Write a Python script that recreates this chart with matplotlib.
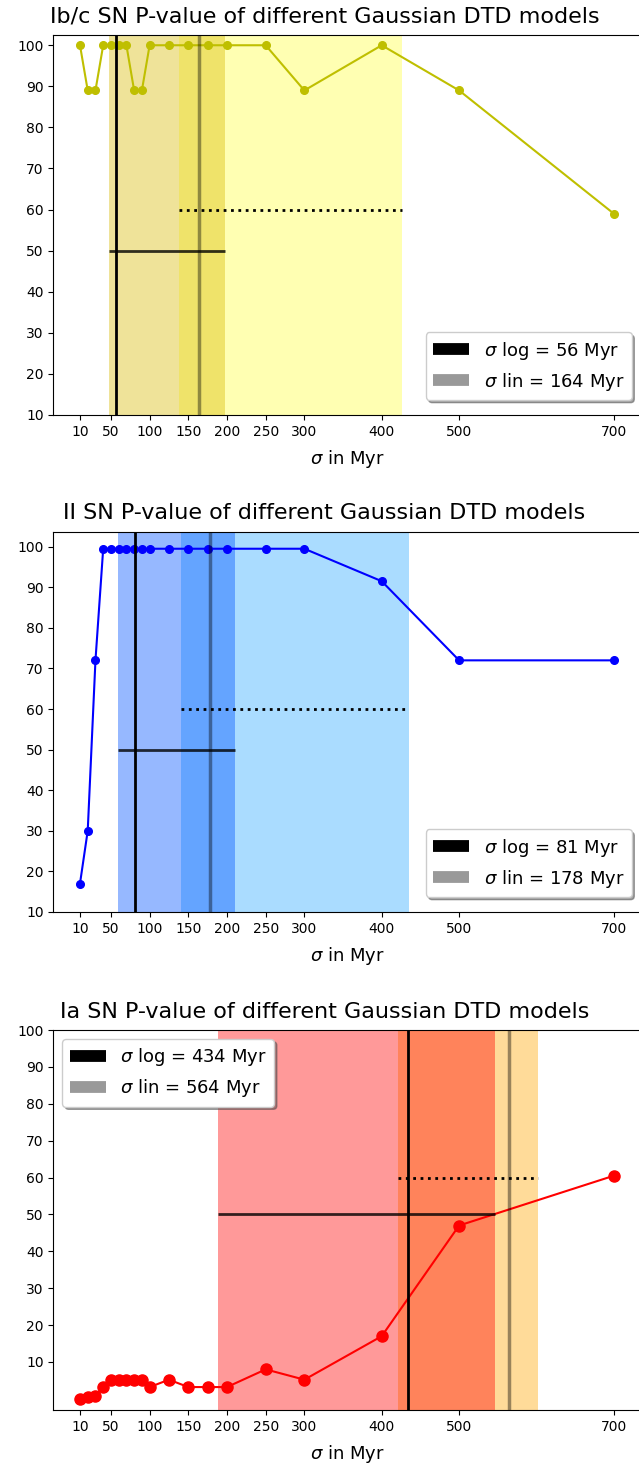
import numpy as np
import matplotlib
matplotlib.use('Agg')
import matplotlib.pyplot as plt
from matplotlib.lines import Line2D

# sigma of the gaussian DTD (Myr) and p-values per SN type
sigma = [10, 20, 30, 40, 50, 60, 70, 80, 90, 100, 125, 150, 175, 200, 250, 300, 400, 500, 700]
p_ibc = [100, 89, 89, 100, 100, 100, 100, 89, 89, 100, 100, 100, 100, 100, 100, 89, 100, 89, 59]
p_ii = [17, 30, 72, 99.5, 99.5, 99.5, 99.5, 99.5, 99.5, 99.5, 99.5, 99.5, 99.5, 99.5, 99.5, 99.5, 91.5, 72, 72]
p_ia = [0, 0.5, 0.8, 3.2, 5.2, 5.2, 5.2, 5.2, 5.2, 3.2, 5.2, 3.2, 3.2, 3.2, 8, 5.2, 17, 47, 60.5]

sn_types = ['Ib/c', 'II', 'Ia']
# best sigma from the log / lin fits and their ranges
sig_log = [56, 81, 434]
sig_lin = [164, 178, 564]
log_range = [(47, 197), (59, 210), (188, 546)]
lin_range = [(138, 426), (141, 435), (421, 602)]

xticks = [10, 50, 100, 150, 200, 250, 300, 400, 500, 700]
yticks = [10, 20, 30, 40, 50, 60, 70, 80, 90, 100]

line_col = ['y', 'b', 'r']
msize = [5.5, 5.5, 8]
lin_col = [('yellow', 0.3), ('#1aa0ff', 0.37), ('orange', 0.4)]
log_col = [('#d9bb00', 0.4), ('#0054ff', 0.41), ('red', 0.4)]
leg_loc = ['lower right', 'lower right', 'upper left']
leg_anchor = [(1.0, 0.016), (1.0, 0.016), (0.0, 1.0)]

fig = plt.figure(figsize=(6.39, 14.70), dpi=100)
bottoms = [0.7177, 0.3796, 0.0408]
pvals = [p_ibc, p_ii, p_ia]

for i in range(3):
    ax = fig.add_axes([0.0834, bottoms[i], 0.919, 0.2585])
    ax.plot(sigma, pvals[i], '-o', color=line_col[i], ms=msize[i], lw=1.5)
    ax.axvspan(lin_range[i][0], lin_range[i][1], color=lin_col[i][0], alpha=lin_col[i][1], lw=0)
    ax.axvspan(log_range[i][0], log_range[i][1], color=log_col[i][0], alpha=log_col[i][1], lw=0)
    ax.axvline(sig_log[i], color='k', lw=2)
    ax.axvline(sig_lin[i], color='k', alpha=0.4, lw=2.5)
    ax.hlines(50, log_range[i][0], log_range[i][1], color='k', alpha=0.8, lw=2)
    ax.hlines(60, lin_range[i][0], lin_range[i][1], color='k', linestyles=':', lw=2)

    if i < 2:
        ax.set_ylim(bottom=10)
    else:
        ax.set_ylim(top=100)
    ax.set_xticks(xticks)
    ax.set_yticks(yticks)
    ax.set_title('%s SN P-value of different Gaussian DTD models' % sn_types[i],
                 fontsize=16, x=0.462, pad=9)
    ax.set_xlabel(r'$\sigma$ in Myr', fontsize=13, labelpad=7)

    handles = [Line2D([0], [0], color='k', lw=8.5, solid_capstyle='butt'),
               Line2D([0], [0], color='k', alpha=0.4, lw=8.5, solid_capstyle='butt')]
    labels = [r'$\sigma$ log = %d Myr' % sig_log[i], r'$\sigma$ lin = %d Myr' % sig_lin[i]]
    ax.legend(handles, labels, loc=leg_loc[i], bbox_to_anchor=leg_anchor[i],
              fontsize=13, shadow=True)

fig.savefig('out.png', dpi=100)
plt.close()
